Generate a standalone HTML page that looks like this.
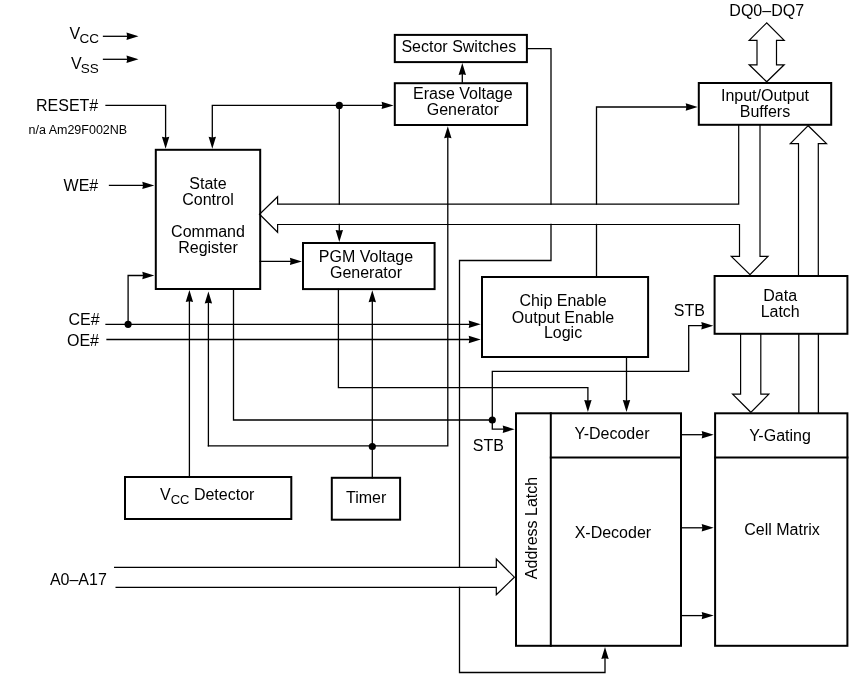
<!DOCTYPE html>
<html><head><meta charset="utf-8"><style>
html,body{margin:0;padding:0;background:#fff;}
svg{display:block;}
text{font-family:"Liberation Sans",sans-serif;fill:#000;}
svg{will-change:transform;}
</style></head><body>
<svg width="862" height="678" viewBox="0 0 862 678">
<rect width="862" height="678" fill="#fff"/>
<rect x="394.8" y="34.9" width="132.09999999999997" height="27.200000000000003" fill="none" stroke="#000" stroke-width="2.0"/>
<rect x="394.8" y="83.2" width="132.3" height="41.8" fill="none" stroke="#000" stroke-width="2.0"/>
<rect x="698.8" y="83" width="132.4000000000001" height="41.8" fill="none" stroke="#000" stroke-width="2.0"/>
<rect x="155.8" y="149.8" width="104.39999999999998" height="139.2" fill="none" stroke="#000" stroke-width="2.0"/>
<rect x="303" y="243" width="131.60000000000002" height="46.10000000000002" fill="none" stroke="#000" stroke-width="2.0"/>
<rect x="482" y="277" width="166.10000000000002" height="80" fill="none" stroke="#000" stroke-width="2.0"/>
<rect x="714.6" y="276" width="132.79999999999995" height="57.80000000000001" fill="none" stroke="#000" stroke-width="2.0"/>
<rect x="516" y="413.3" width="165" height="232.49999999999994" fill="none" stroke="#000" stroke-width="2.0"/>
<polyline points="550.8,413.3 550.8,645.8" fill="none" stroke="#000" stroke-width="2.0" stroke-linejoin="miter" stroke-linecap="square"/>
<polyline points="550.8,457.5 681,457.5" fill="none" stroke="#000" stroke-width="2.0" stroke-linejoin="miter" stroke-linecap="square"/>
<rect x="715.1" y="413.3" width="132.29999999999995" height="232.49999999999994" fill="none" stroke="#000" stroke-width="2.0"/>
<polyline points="715.1,457.5 847.4,457.5" fill="none" stroke="#000" stroke-width="2.0" stroke-linejoin="miter" stroke-linecap="square"/>
<rect x="125" y="477" width="166.3" height="42" fill="none" stroke="#000" stroke-width="2.0"/>
<rect x="331.8" y="477.8" width="68.30000000000001" height="41.900000000000034" fill="none" stroke="#000" stroke-width="2.0"/>
<polyline points="103.5,36.3 127.2,36.3" fill="none" stroke="#000" stroke-width="1.3" stroke-linejoin="miter" stroke-linecap="square"/>
<polygon points="138.50,36.30 126.50,32.60 127.20,36.30 126.50,40.00" fill="#000"/>
<polyline points="103.5,59.3 127.2,59.3" fill="none" stroke="#000" stroke-width="1.3" stroke-linejoin="miter" stroke-linecap="square"/>
<polygon points="138.50,59.30 126.50,55.60 127.20,59.30 126.50,63.00" fill="#000"/>
<polyline points="106,105.4 165.6,105.4 165.6,137.5" fill="none" stroke="#000" stroke-width="1.3" stroke-linejoin="miter" stroke-linecap="square"/>
<polygon points="165.60,148.80 161.90,136.80 165.60,137.50 169.30,136.80" fill="#000"/>
<polyline points="339.3,105.4 212.3,105.4 212.3,137.5" fill="none" stroke="#000" stroke-width="1.3" stroke-linejoin="miter" stroke-linecap="square"/>
<polygon points="212.30,148.80 208.60,136.80 212.30,137.50 216.00,136.80" fill="#000"/>
<polyline points="339.3,105.4 382.3,105.4" fill="none" stroke="#000" stroke-width="1.3" stroke-linejoin="miter" stroke-linecap="square"/>
<polygon points="393.60,105.40 381.60,101.70 382.30,105.40 381.60,109.10" fill="#000"/>
<circle cx="339.3" cy="105.4" r="3.6" fill="#000"/>
<polyline points="339.3,105.4 339.3,204.2" fill="none" stroke="#000" stroke-width="1.3" stroke-linejoin="miter" stroke-linecap="square"/>
<polyline points="339.3,224.5 339.3,230.6" fill="none" stroke="#000" stroke-width="1.3" stroke-linejoin="miter" stroke-linecap="square"/>
<polygon points="339.30,241.90 335.60,229.90 339.30,230.60 343.00,229.90" fill="#000"/>
<polyline points="109.5,185.4 143.0,185.4" fill="none" stroke="#000" stroke-width="1.3" stroke-linejoin="miter" stroke-linecap="square"/>
<polygon points="154.30,185.40 142.30,181.70 143.00,185.40 142.30,189.10" fill="#000"/>
<polyline points="462.3,82 462.3,74.2" fill="none" stroke="#000" stroke-width="1.3" stroke-linejoin="miter" stroke-linecap="square"/>
<polygon points="462.30,62.90 458.60,74.90 462.30,74.20 466.00,74.90" fill="#000"/>
<polyline points="527,48.7 551,48.7 551,204.2" fill="none" stroke="#000" stroke-width="1.3" stroke-linejoin="miter" stroke-linecap="square"/>
<polyline points="551,224.5 551,260.5 459.5,260.5 459.5,567.3" fill="none" stroke="#000" stroke-width="1.3" stroke-linejoin="miter" stroke-linecap="square"/>
<polyline points="459.5,587.4 459.5,672.5 605,672.5 605,658.3" fill="none" stroke="#000" stroke-width="1.3" stroke-linejoin="miter" stroke-linecap="square"/>
<polygon points="605.00,647.00 601.30,659.00 605.00,658.30 608.70,659.00" fill="#000"/>
<polyline points="208.4,445.8 447.8,445.8 447.8,137.6" fill="none" stroke="#000" stroke-width="1.3" stroke-linejoin="miter" stroke-linecap="square"/>
<polygon points="447.80,126.30 444.10,138.30 447.80,137.60 451.50,138.30" fill="#000"/>
<polyline points="208.4,445.8 208.4,302.8" fill="none" stroke="#000" stroke-width="1.3" stroke-linejoin="miter" stroke-linecap="square"/>
<polygon points="208.40,291.50 204.70,303.50 208.40,302.80 212.10,303.50" fill="#000"/>
<circle cx="372.3" cy="446.5" r="3.6" fill="#000"/>
<polyline points="372.3,477.8 372.3,301.5" fill="none" stroke="#000" stroke-width="1.3" stroke-linejoin="miter" stroke-linecap="square"/>
<polygon points="372.30,290.20 368.60,302.20 372.30,301.50 376.00,302.20" fill="#000"/>
<polyline points="189.4,477 189.4,301.3" fill="none" stroke="#000" stroke-width="1.3" stroke-linejoin="miter" stroke-linecap="square"/>
<polygon points="189.40,290.00 185.70,302.00 189.40,301.30 193.10,302.00" fill="#000"/>
<polyline points="233.5,289 233.5,420 492.3,420" fill="none" stroke="#000" stroke-width="1.3" stroke-linejoin="miter" stroke-linecap="square"/>
<polyline points="338.4,289.3 338.4,387.6 587.9,387.6 587.9,400.59999999999997" fill="none" stroke="#000" stroke-width="1.3" stroke-linejoin="miter" stroke-linecap="square"/>
<polygon points="587.90,411.90 584.20,399.90 587.90,400.60 591.60,399.90" fill="#000"/>
<polyline points="106,324.3 469.4,324.3" fill="none" stroke="#000" stroke-width="1.3" stroke-linejoin="miter" stroke-linecap="square"/>
<polygon points="480.70,324.30 468.70,320.60 469.40,324.30 468.70,328.00" fill="#000"/>
<circle cx="128.1" cy="324.3" r="3.6" fill="#000"/>
<polyline points="128.1,324.3 128.1,275.5 143.0,275.5" fill="none" stroke="#000" stroke-width="1.3" stroke-linejoin="miter" stroke-linecap="square"/>
<polygon points="154.30,275.50 142.30,271.80 143.00,275.50 142.30,279.20" fill="#000"/>
<polyline points="107,339.5 469.4,339.5" fill="none" stroke="#000" stroke-width="1.3" stroke-linejoin="miter" stroke-linecap="square"/>
<polygon points="480.70,339.50 468.70,335.80 469.40,339.50 468.70,343.20" fill="#000"/>
<polyline points="260.2,261.4 290.59999999999997,261.4" fill="none" stroke="#000" stroke-width="1.3" stroke-linejoin="miter" stroke-linecap="square"/>
<polygon points="301.90,261.40 289.90,257.70 290.60,261.40 289.90,265.10" fill="#000"/>
<polyline points="626.5,357 626.5,400.59999999999997" fill="none" stroke="#000" stroke-width="1.3" stroke-linejoin="miter" stroke-linecap="square"/>
<polygon points="626.50,411.90 622.80,399.90 626.50,400.60 630.20,399.90" fill="#000"/>
<polyline points="596.5,277 596.5,224.5" fill="none" stroke="#000" stroke-width="1.3" stroke-linejoin="miter" stroke-linecap="square"/>
<polyline points="596.5,204.2 596.5,107 686.4000000000001,107" fill="none" stroke="#000" stroke-width="1.3" stroke-linejoin="miter" stroke-linecap="square"/>
<polygon points="697.70,107.00 685.70,103.30 686.40,107.00 685.70,110.70" fill="#000"/>
<polyline points="492.3,420 492.3,371.4 688.7,371.4 688.7,325.7 702.0,325.7" fill="none" stroke="#000" stroke-width="1.3" stroke-linejoin="miter" stroke-linecap="square"/>
<polygon points="713.30,325.70 701.30,322.00 702.00,325.70 701.30,329.40" fill="#000"/>
<circle cx="492.3" cy="420" r="3.6" fill="#000"/>
<polyline points="492.3,420 492.3,429.2 503.40000000000003,429.2" fill="none" stroke="#000" stroke-width="1.3" stroke-linejoin="miter" stroke-linecap="square"/>
<polygon points="514.70,429.20 502.70,425.50 503.40,429.20 502.70,432.90" fill="#000"/>
<polyline points="681,434.7 702.4000000000001,434.7" fill="none" stroke="#000" stroke-width="1.3" stroke-linejoin="miter" stroke-linecap="square"/>
<polygon points="713.70,434.70 701.70,431.00 702.40,434.70 701.70,438.40" fill="#000"/>
<polyline points="681,527.8 702.4000000000001,527.8" fill="none" stroke="#000" stroke-width="1.3" stroke-linejoin="miter" stroke-linecap="square"/>
<polygon points="713.70,527.80 701.70,524.10 702.40,527.80 701.70,531.50" fill="#000"/>
<polyline points="681,615.6 702.4000000000001,615.6" fill="none" stroke="#000" stroke-width="1.3" stroke-linejoin="miter" stroke-linecap="square"/>
<polygon points="713.70,615.60 701.70,611.90 702.40,615.60 701.70,619.30" fill="#000"/>
<polyline points="738.7,124.4 738.7,204.2 277.6,204.2 277.6,196.7 259.5,214.3 277.6,232.3 277.6,224.5 739.5,224.5 739.5,256.4 731.3,256.4 750,274.6 768,256.4 760,256.4 760,124.4" fill="none" stroke="#000" stroke-width="1.2" stroke-linejoin="miter"/>
<polyline points="798.5,276 798.5,143.6 790.3,143.6 808.2,125.7 826.5,143.6 818.3,143.6 818.3,276" fill="none" stroke="#000" stroke-width="1.2" stroke-linejoin="miter"/>
<polygon points="766.7,22.8 749.2,40.3 757,40.3 757,64.8 749.2,64.8 766.7,81.8 784.2,64.8 776.5,64.8 776.5,40.3 784.2,40.3" fill="none" stroke="#000" stroke-width="1.2" stroke-linejoin="miter"/>
<polyline points="740.6,333.8 740.6,394.2 732.6,394.2 750.8,412.3 768.8,394.2 760.8,394.2 760.8,333.8" fill="none" stroke="#000" stroke-width="1.2" stroke-linejoin="miter"/>
<polyline points="798.8,333.8 798.8,413.3" fill="none" stroke="#000" stroke-width="1.3" stroke-linejoin="miter" stroke-linecap="square"/>
<polyline points="818.4,333.8 818.4,413.3" fill="none" stroke="#000" stroke-width="1.3" stroke-linejoin="miter" stroke-linecap="square"/>
<polyline points="114,567.3 496.3,567.3 496.3,559 514.4,577.2 496.3,594.8 496.3,587.4 115.5,587.4" fill="none" stroke="#000" stroke-width="1.2" stroke-linejoin="miter"/>
<text x="69.5" y="38.7" font-size="16" text-anchor="start" >V</text>
<text x="79.6" y="42.6" font-size="13.5" text-anchor="start" >CC</text>
<text x="70.9" y="68.6" font-size="16" text-anchor="start" >V</text>
<text x="80.8" y="72.9" font-size="13.5" text-anchor="start" >SS</text>
<text x="36" y="111" font-size="16" text-anchor="start" >RESET#</text>
<text x="28.5" y="133.8" font-size="12.5" text-anchor="start" >n/a Am29F002NB</text>
<text x="63.6" y="190.6" font-size="16" text-anchor="start" >WE#</text>
<text x="68.5" y="324.9" font-size="16" text-anchor="start" >CE#</text>
<text x="67" y="346" font-size="16" text-anchor="start" >OE#</text>
<text x="49.9" y="585.1" font-size="16" text-anchor="start" >A0–A17</text>
<text x="766.7" y="15.8" font-size="16" text-anchor="middle" >DQ0–DQ7</text>
<text x="458.8" y="51.7" font-size="16" text-anchor="middle" >Sector Switches</text>
<text x="462.8" y="99" font-size="16" text-anchor="middle" >Erase Voltage</text>
<text x="462.8" y="115" font-size="16" text-anchor="middle" >Generator</text>
<text x="765" y="100.6" font-size="16" text-anchor="middle" >Input/Output</text>
<text x="765" y="116.7" font-size="16" text-anchor="middle" >Buffers</text>
<text x="208" y="188.5" font-size="16" text-anchor="middle" >State</text>
<text x="208" y="204.5" font-size="16" text-anchor="middle" >Control</text>
<text x="208" y="237" font-size="16" text-anchor="middle" >Command</text>
<text x="208" y="252.5" font-size="16" text-anchor="middle" >Register</text>
<text x="366" y="262.2" font-size="16" text-anchor="middle" >PGM Voltage</text>
<text x="366" y="277.5" font-size="16" text-anchor="middle" >Generator</text>
<text x="563" y="306.3" font-size="16" text-anchor="middle" >Chip Enable</text>
<text x="563" y="322.6" font-size="16" text-anchor="middle" >Output Enable</text>
<text x="563" y="338.1" font-size="16" text-anchor="middle" >Logic</text>
<text x="673.8" y="315.6" font-size="16" text-anchor="start" >STB</text>
<text x="780.2" y="300.8" font-size="16" text-anchor="middle" >Data</text>
<text x="780.2" y="317.2" font-size="16" text-anchor="middle" >Latch</text>
<text x="472.8" y="450.8" font-size="16" text-anchor="start" >STB</text>
<text x="612" y="438.5" font-size="16" text-anchor="middle" >Y-Decoder</text>
<text x="780" y="440.5" font-size="16" text-anchor="middle" >Y-Gating</text>
<text x="612.9" y="537.8" font-size="16" text-anchor="middle" >X-Decoder</text>
<text x="782" y="534.6" font-size="16" text-anchor="middle" >Cell Matrix</text>
<text x="537" y="528" font-size="16" text-anchor="middle" transform="rotate(-90 537 528)">Address Latch</text>
<text x="160" y="500.2" font-size="16">V<tspan font-size="13" dy="3.5">CC</tspan><tspan dy="-3.5"> Detector</tspan></text>
<text x="346" y="502.8" font-size="16" text-anchor="start" >Timer</text>
</svg></body></html>
